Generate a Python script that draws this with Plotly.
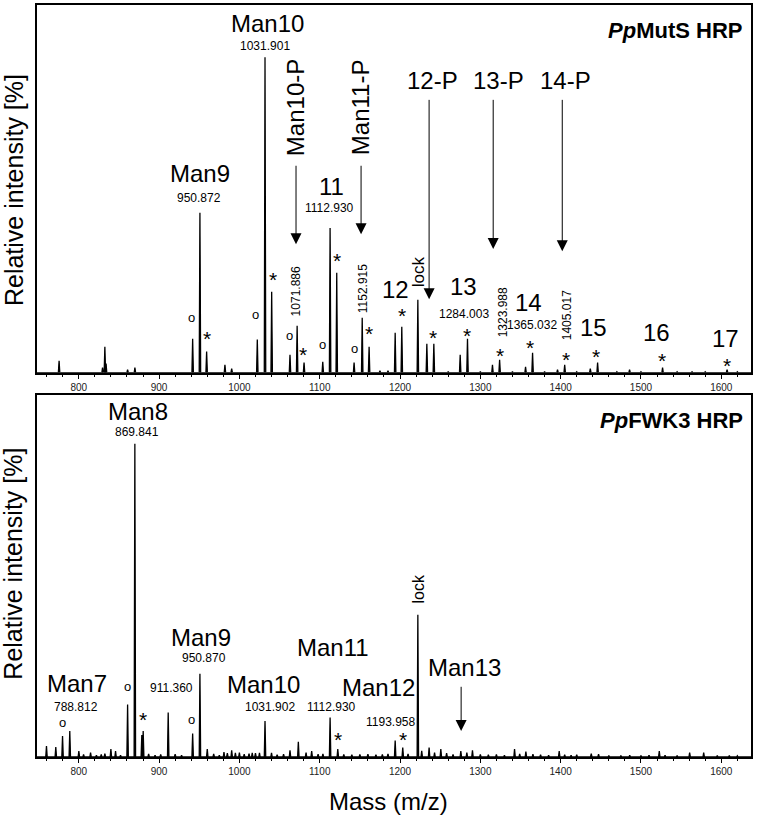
import plotly.graph_objects as go

FONT = "Liberation Sans, Arial, sans-serif"
X_RANGE = [748, 1637]

# ---------------- data: top panel (PpMutS HRP) ----------------
top_mz = [775.5, 829.6, 832.5, 834.0, 860.8, 869.9, 941.8, 950.87, 959.2, 982.0,
          990.4, 1022.3, 1031.9, 1040.2, 1063.0, 1071.89, 1080.5, 1103.8, 1112.93,
          1121.2, 1142.8, 1152.92, 1161.5, 1175.0, 1185.0, 1193.96, 1202.2, 1222.2,
          1233.4, 1242.1, 1260.0, 1274.9, 1284.0, 1300.0, 1315.1, 1323.99, 1340.0,
          1356.3, 1365.03, 1380.0, 1396.1, 1405.02, 1420.0, 1436.9, 1446.0, 1470.0,
          1485.8, 1500.0, 1526.9, 1545.0, 1563.6, 1580.0, 1607.2, 1620.0]
top_int = [3.8, 1.6, 8.2, 2.9, 1.0, 1.6, 10.8, 50.7, 6.7, 2.5,
           1.3, 10.5, 100.0, 25.7, 5.7, 14.9, 3.2, 3.5, 45.9,
           31.7, 3.2, 17.4, 8.2, 0.6, 0.6, 12.7, 14.6, 23.1,
           9.2, 9.2, 0.4, 5.7, 10.8, 0.4, 2.5, 4.1, 0.4,
           1.9, 6.3, 0.4, 1.0, 2.5, 0.3, 1.3, 3.2, 0.3,
           1.0, 0.3, 1.6, 0.3, 0.4, 0.3, 1.0, 0.3]

# ---------------- data: bottom panel (PpFWK3 HRP) ----------------
bot_mz = [759.8, 771.4, 779.8, 788.81, 800.1, 806.0, 814.7, 822.0, 828.0, 832.5,
          840.0, 845.8, 852.0, 860.8, 869.84, 878.5, 880.2, 887.0, 895.0, 902.0,
          911.36, 920.0, 928.0, 941.8, 950.87, 960.0, 968.0, 975.0, 980.8, 985.0,
          990.4, 995.0, 1000.0, 1006.0, 1012.0, 1016.0, 1020.0, 1025.0, 1031.9, 1040.0,
          1047.0, 1055.0, 1063.0, 1073.4, 1083.0, 1090.0, 1098.0, 1104.0, 1112.93, 1122.5,
          1130.0, 1140.0, 1150.0, 1160.0, 1170.0, 1178.0, 1185.0, 1193.96, 1203.4, 1210.0,
          1222.2, 1227.0, 1236.2, 1243.0, 1250.8, 1258.0, 1266.0, 1275.7, 1283.2, 1290.2,
          1300.0, 1310.0, 1320.0, 1330.0, 1342.6, 1349.0, 1356.7, 1365.5, 1375.0, 1385.0,
          1398.2, 1405.0, 1413.0, 1420.0, 1438.1, 1447.2, 1460.0, 1475.0, 1486.0, 1500.0,
          1510.0, 1522.8, 1530.0, 1545.0, 1560.6, 1578.1, 1595.0, 1610.0, 1620.0]
bot_int = [3.5, 3.2, 6.7, 8.3, 1.9, 0.8, 1.4, 0.6, 0.8, 1.1,
           2.5, 1.9, 0.6, 16.8, 100.0, 7.0, 8.3, 1.0, 0.6, 0.8,
           14.2, 0.9, 0.6, 7.5, 26.6, 2.5, 1.0, 0.6, 1.6, 1.2,
           2.1, 1.3, 1.4, 0.9, 1.1, 1.3, 1.2, 1.3, 11.5, 1.3,
           0.7, 0.9, 2.1, 4.9, 1.4, 1.9, 0.9, 1.0, 12.6, 2.5,
           0.8, 0.7, 0.8, 0.9, 0.7, 0.8, 1.0, 5.3, 3.0, 1.0,
           45.4, 2.0, 3.0, 1.4, 2.5, 1.2, 0.8, 1.9, 1.4, 2.1,
           0.8, 0.7, 0.8, 0.6, 2.5, 1.0, 1.7, 0.9, 0.7, 0.6,
           1.9, 0.7, 0.6, 0.7, 1.1, 0.9, 0.5, 0.5, 0.6, 0.5,
           0.6, 1.9, 0.6, 0.5, 1.4, 1.4, 0.5, 0.5, 0.4]

tick_vals = [800, 900, 1000, 1100, 1200, 1300, 1400, 1500, 1600]
tick_text = ["800", "900", "1000", "1100", "1200", "1300", "1400", "1500", "1600"]

# labels: (text, m/z, intensity, font size, angle)
top_labels = [
    ("Man10", 1034.4, 110.6, 24, 0), ("1031.901", 1031.9, 103.5, 12, 0),
    ("Man9", 950.9, 63.3, 24, 0), ("950.872", 949.6, 55.3, 12, 0),
    ("Man10-P", 1069.2, 84.2, 24, -90), ("11", 1114.1, 59.1, 24, 0),
    ("1112.930", 1111.6, 52.2, 12, 0), ("Man11-P", 1150.2, 84.2, 24, -90),
    ("1071.886", 1070.5, 25.8, 12, -90), ("1152.915", 1154.0, 26.5, 12, -90),
    ("12-P", 1240.0, 92.7, 24, 0), ("13-P", 1322.2, 92.7, 24, 0), ("14-P", 1405.7, 92.7, 24, 0),
    ("12", 1193.9, 26.5, 24, 0), ("lock", 1222.5, 31.9, 17, -90),
    ("13", 1278.6, 27.2, 24, 0), ("1284.003", 1279.8, 18.6, 12, 0),
    ("1323.988", 1328.4, 19.2, 12, -90), ("14", 1359.6, 22.3, 24, 0),
    ("1365.032", 1364.6, 15.1, 12, 0), ("1405.017", 1408.2, 18.3, 12, -90),
    ("15", 1440.6, 14.2, 24, 0), ("16", 1519.1, 12.9, 24, 0), ("17", 1605.1, 11.0, 24, 0),
]
top_arrows = [  # (m/z, tail intensity, head intensity)
    (1070.5, 66.1, 40.7), (1151.5, 66.1, 43.9),
    (1236.2, 87.0, 23.3), (1316.0, 87.0, 39.2), (1402.0, 87.0, 38.5),
]
top_circles = [(940.9, 17.6), (1020.6, 18.6), (1061.8, 11.9), (1102.9, 9.1), (1142.8, 7.8)]
top_stars = [(959.6, 12.6), (1041.8, 31.6), (1079.2, 7.8), (1121.6, 37.6), (1161.5, 14.2),
             (1202.6, 20.2), (1241.2, 13.2), (1283.6, 13.8), (1324.7, 7.5), (1362.1, 10.0),
             (1406.9, 6.2), (1444.3, 7.2), (1526.6, 5.9), (1607.6, 4.3)]

bot_labels = [
    ("Man8", 873.6, 110.2, 24, 0), ("869.841", 872.4, 103.8, 12, 0),
    ("Man9", 952.1, 38.2, 24, 0), ("950.870", 955.9, 31.5, 12, 0),
    ("Man7", 797.6, 23.6, 24, 0), ("788.812", 796.3, 15.9, 12, 0),
    ("911.360", 916.0, 22.0, 12, 0),
    ("Man10", 1030.6, 23.2, 24, 0), ("1031.902", 1038.1, 15.9, 12, 0),
    ("Man11", 1116.6, 35.0, 24, 0), ("1112.930", 1114.1, 15.9, 12, 0),
    ("Man12", 1173.3, 22.3, 24, 0), ("1193.958", 1187.6, 11.1, 12, 0),
    ("Man13", 1279.8, 28.7, 24, 0), ("lock", 1222.5, 53.5, 16, -90),
]
bot_arrows = [(1276.1, 22.9, 8.3)]
bot_circles = [(780.2, 11.1), (861.1, 22.6), (940.9, 12.1)]
bot_stars = [(879.9, 14.0), (1122.8, 7.6), (1203.8, 7.6)]


def stick_profile(mz, inten, half=0.9):
    pairs = sorted(zip(mz, inten))
    xs, ys = [X_RANGE[0]], [0]
    for m, h in pairs:
        xs += [m - half, m, m + half]
        ys += [0, h, 0]
    xs.append(X_RANGE[1])
    ys.append(0)
    return xs, ys


fig = go.Figure()
for mz, inten, xa, ya in [(top_mz, top_int, "x", "y"), (bot_mz, bot_int, "x2", "y2")]:
    xs, ys = stick_profile(mz, inten)
    fig.add_trace(go.Scatter(x=xs, y=ys, mode="lines", xaxis=xa, yaxis=ya,
                             line=dict(color="black", width=1.3),
                             fill="tozeroy", fillcolor="black",
                             hoverinfo="skip", showlegend=False))

ann = []


def add_panel(labels, arrows, circles, stars, xr, yr):
    for text, x, y, size, ang in labels:
        ann.append(dict(text=text, x=x, y=y, xref=xr, yref=yr, showarrow=False,
                        textangle=ang, font=dict(family=FONT, size=size, color="black"),
                        xanchor="center", yanchor="middle"))
    for x, y0, y1 in arrows:
        ann.append(dict(text="", x=x, y=y1, ax=x, ay=y0, xref=xr, yref=yr,
                        axref=xr, ayref=yr, showarrow=True, arrowhead=2,
                        arrowsize=2.2, arrowwidth=1, arrowcolor="black", standoff=0))
    for x, y in circles:
        ann.append(dict(text="o", x=x, y=y, xref=xr, yref=yr, showarrow=False,
                        font=dict(family=FONT, size=13, color="black"),
                        xanchor="center", yanchor="middle"))
    for x, y in stars:
        ann.append(dict(text="*", x=x, y=y - 1.9, xref=xr, yref=yr, showarrow=False,
                        font=dict(family=FONT, size=21, color="black"),
                        xanchor="center", yanchor="middle"))


add_panel(top_labels, top_arrows, top_circles, top_stars, "x", "y")
add_panel(bot_labels, bot_arrows, bot_circles, bot_stars, "x2", "y2")

ann.append(dict(text="<b><i>Pp</i>MutS HRP</b>", x=0.990, y=0.966, xref="paper", yref="paper",
                showarrow=False, xanchor="right", yanchor="middle",
                font=dict(family=FONT, size=22, color="black")))
ann.append(dict(text="<b><i>Pp</i>FWK3 HRP</b>", x=0.992, y=0.448, xref="paper", yref="paper",
                showarrow=False, xanchor="right", yanchor="middle",
                font=dict(family=FONT, size=22, color="black")))
for yc in [0.7545, 0.2577]:
    ann.append(dict(text="Relative intensity [%]", x=-0.033, y=yc, xref="paper", yref="paper",
                    showarrow=False, textangle=-90, xanchor="center", yanchor="middle",
                    font=dict(family=FONT, size=25, color="black")))
ann.append(dict(text="Mass (m/z)", x=0.4916, y=-0.0597, xref="paper", yref="paper",
                showarrow=False, xanchor="center", yanchor="middle",
                font=dict(family=FONT, size=24, color="black")))

xaxis_common = dict(range=X_RANGE, showgrid=False, zeroline=False, showline=True,
                    linecolor="black", linewidth=2, mirror=True,
                    tickvals=tick_vals, ticktext=tick_text, ticks="outside",
                    ticklen=4, tickwidth=1, tickcolor="black",
                    minor=dict(dtick=20, tick0=800, ticks="outside", ticklen=2, tickcolor="black"),
                    tickfont=dict(family=FONT, size=10, color="#222"))
yaxis_common = dict(showgrid=False, zeroline=False, showline=True, linecolor="black",
                    linewidth=2, mirror=True, showticklabels=False, ticks="")

fig.update_layout(
    width=760, height=818,
    margin=dict(l=37, r=9, t=3, b=61),
    paper_bgcolor="white", plot_bgcolor="white",
    xaxis=dict(anchor="y", domain=[0, 1], **xaxis_common),
    yaxis=dict(anchor="x", domain=[0.511, 1.0], range=[0, 116.6], **yaxis_common),
    xaxis2=dict(anchor="y2", domain=[0, 1], **xaxis_common),
    yaxis2=dict(anchor="x2", domain=[0, 0.4814], range=[0, 115.6], **yaxis_common),
    annotations=ann,
    showlegend=False,
)

fig.write_html("out.html", config={"displayModeBar": False},
               post_script="document.body.style.margin='0px';")
